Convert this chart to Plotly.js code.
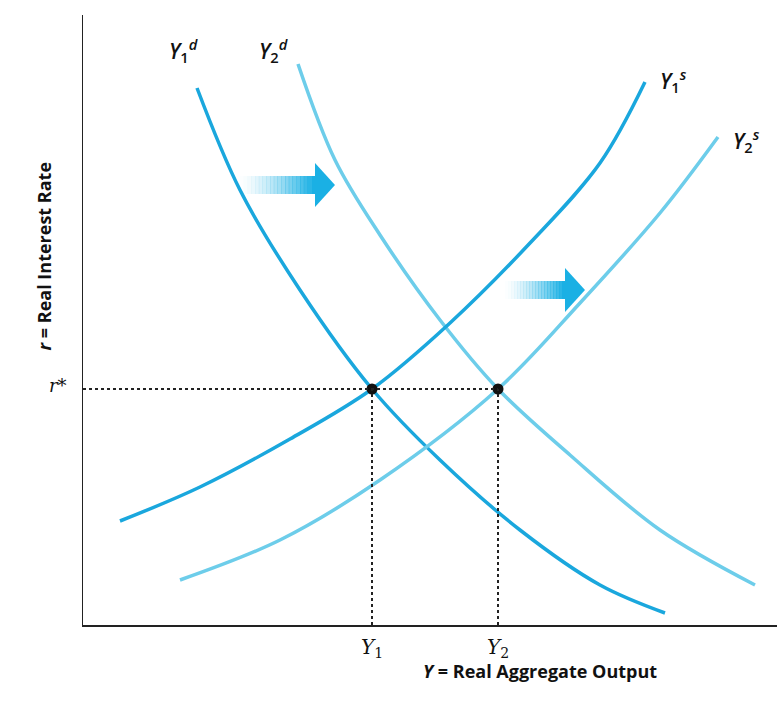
<!DOCTYPE html>
<html>
<head>
<meta charset="utf-8">
<script src="https://cdn.plot.ly/plotly-3.0.1.min.js"></script>
<style>body{margin:0;background:#fff}#chart{width:777px;height:708px}</style>
</head>
<body>
<div id="chart"></div>
<script>
// curves (output, rate)
let y1d_x = [114, 157, 217, 289, 357, 437, 517, 582];
let y1d_y = [537, 435, 335, 236, 165, 95, 40, 12];
let y2d_x = [215, 252, 297, 357, 415, 487, 577, 672];
let y2d_y = [561, 465, 390, 305, 236, 170, 95, 40];
let y1s_x = [37, 117, 207, 289, 367, 447, 517, 562];
let y1s_y = [104, 138, 186, 236, 302, 382, 462, 543];
let y2s_x = [97, 197, 297, 415, 497, 577, 635];
let y2s_y = [45, 85, 145, 236, 322, 412, 488];
let eq_x = [289, 415];
let eq_y = [236, 236];
let shift_arrows = [[157, 252, 440], [422, 502, 335]];

let dark = "#1aa7dd", light = "#6dcdea";

function curve(x, y, c) {
    return { x: x, y: y, mode: "lines", line: { color: c, width: 3.5, shape: "spline", smoothing: 1 }, hoverinfo: "skip" };
}

let data = [
    curve(y1d_x, y1d_y, dark), curve(y2d_x, y2d_y, light),
    curve(y1s_x, y1s_y, dark), curve(y2s_x, y2s_y, light),
    { x: eq_x, y: eq_y, mode: "markers", marker: { color: "#111", size: 11 }, hoverinfo: "skip" }
];

let shapes = [];
// dotted guides
shapes.push({ type: "line", x0: 0, x1: eq_x[1], y0: eq_y[0], y1: eq_y[0], line: { dash: "dot", width: 2, color: "#222" } });
for (let i = 0; i < eq_x.length; i++) {
    shapes.push({ type: "line", x0: eq_x[i], x1: eq_x[i], y0: 0, y1: eq_y[i], line: { dash: "dot", width: 2, color: "#222" } });
}
// fading arrows
for (let a of shift_arrows) {
    let x0 = a[0], x1 = a[1], y = a[2];
    let body = x1 - 20, n = 20, step = (body - x0) / n;
    for (let k = 0; k < n; k++) {
        shapes.push({ type: "rect", x0: x0 + k * step, x1: x0 + (k + 1) * step + 0.5, y0: y - 9, y1: y + 9,
            fillcolor: "#1ab0e4", opacity: Math.pow((k + 1) / n, 1.5), line: { width: 0 } });
    }
    shapes.push({ type: "path", path: "M" + body + "," + (y + 22) + " L" + x1 + "," + y + " L" + body + "," + (y - 22) + " Z",
        fillcolor: "#1ab0e4", line: { width: 0 } });
}

let lab = (x, y, t) => ({ x: x, y: y, xref: "x", yref: "y", text: t, showarrow: false,
    font: { family: "Open Sans", size: 21, color: "#111", weight: 600 } });
let annotations = [
    lab(100, 575, "<i>Y</i><sub>1</sub><sup><i>d</i></sup>"),
    lab(190, 575, "<i>Y</i><sub>2</sub><sup><i>d</i></sup>"),
    lab(590, 545, "<i>Y</i><sub>1</sub><sup><i>s</i></sup>"),
    lab(663, 485, "<i>Y</i><sub>2</sub><sup><i>s</i></sup>"),
    { x: 0, y: 240, xref: "x", yref: "y", text: "<i>r</i>*", showarrow: false, xanchor: "right", xshift: -14,
      font: { family: "DejaVu Serif", size: 18, color: "#111" } },
    { x: eq_x[0], y: 0, xref: "x", yref: "y", text: "<i>Y</i><sub>1</sub>", showarrow: false, yanchor: "top", yshift: -8,
      font: { family: "DejaVu Serif", size: 20, color: "#111" } },
    { x: eq_x[1], y: 0, xref: "x", yref: "y", text: "<i>Y</i><sub>2</sub>", showarrow: false, yanchor: "top", yshift: -8,
      font: { family: "DejaVu Serif", size: 20, color: "#111" } },
    { x: 0.658, y: -0.098, xref: "paper", yref: "paper", text: "<b><i>Y</i> = Real Aggregate Output</b>", showarrow: false,
      font: { family: "Open Sans", size: 18, color: "#111" } },
    { x: -0.076, y: 0.762, xref: "paper", yref: "paper", text: "<b><i>r</i> = Real Interest Rate</b>", showarrow: false, textangle: -90,
      font: { family: "Open Sans", size: 18, color: "#111" } }
];

let layout = {
    width: 777, height: 708, showlegend: false,
    margin: { l: 83, r: 0, t: 15, b: 83 },
    plot_bgcolor: "#fff", paper_bgcolor: "#fff",
    xaxis: { range: [0, 694], showgrid: false, zeroline: false, showticklabels: false, ticks: "",
        showline: true, linecolor: "#222", linewidth: 1.5 },
    yaxis: { range: [0, 610], showgrid: false, zeroline: false, showticklabels: false, ticks: "",
        showline: true, linecolor: "#222", linewidth: 1.5 },
    shapes: shapes, annotations: annotations
};

Plotly.newPlot("chart", data, layout, { staticPlot: true });
</script>
</body>
</html>
